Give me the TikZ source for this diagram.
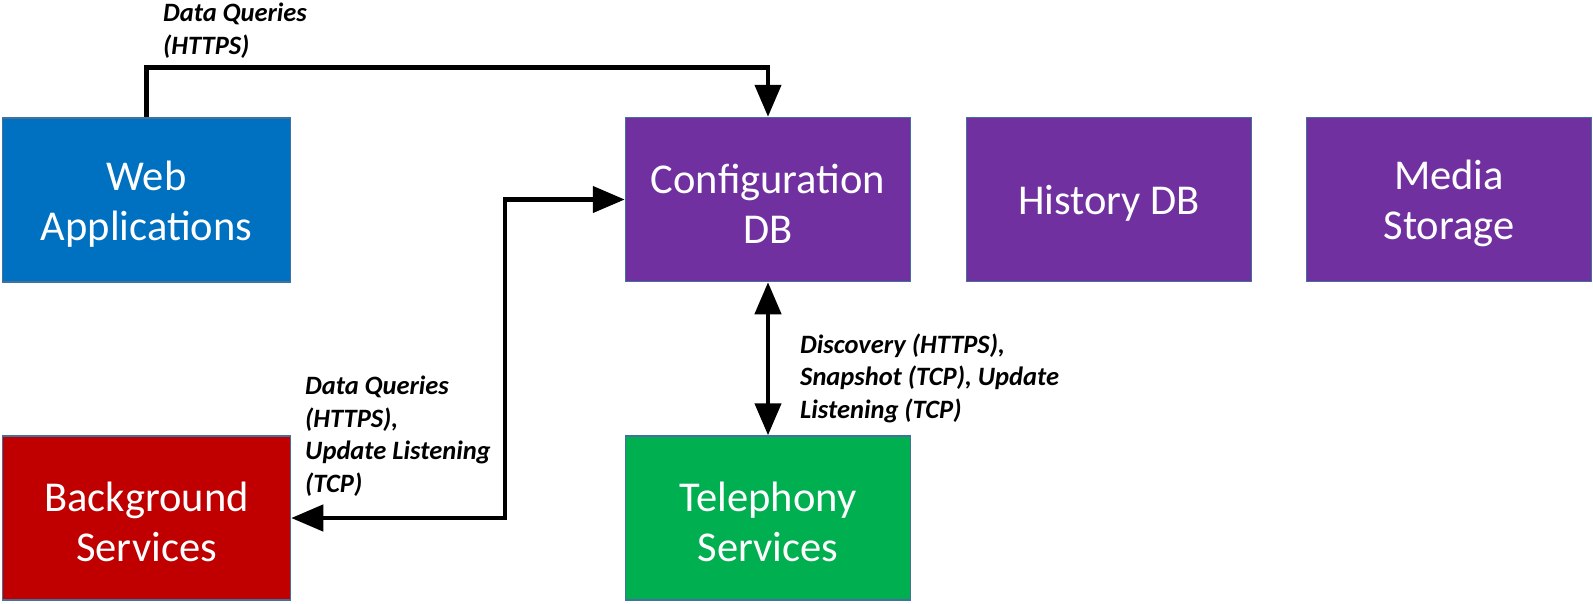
\documentclass[tikz,border=0pt]{standalone}
\usepackage{fontspec}
\setmainfont{Carlito}
\usetikzlibrary{arrows.meta}
\definecolor{webblue}{HTML}{0070C0}
\definecolor{dbpurple}{HTML}{7030A0}
\definecolor{bgred}{HTML}{C00000}
\definecolor{telgreen}{HTML}{00B050}
\definecolor{edgeblue}{HTML}{41719C}
\begin{document}
\begin{tikzpicture}[x=1pt,y=-1pt,
  boxnode/.style={draw=edgeblue, line width=1.5pt, minimum height=164pt, inner sep=0pt},
  boxtext/.style={text=white, align=center, inner sep=0pt, yshift=-4pt,
    font=\fontsize{42.5}{50}\selectfont},
  lbl/.style={align=left, inner sep=0pt, font=\fontsize{26.5}{32.5}\selectfont\bfseries\itshape},
  conn/.style={line width=4.5pt, black, line join=miter, {Triangle[length=32pt,width=26pt]}-{Triangle[length=32pt,width=26pt]}},
  oneway/.style={line width=4.5pt, black, line join=miter, -{Triangle[length=32pt,width=26pt]}}]
\useasboundingbox (0,0) rectangle (1593,603);
\node[boxnode, fill=webblue, minimum width=288pt, label={[boxtext]center:Web\\Applications}] (web) at (146.5,200) {};
\node[boxnode, fill=dbpurple, minimum width=285pt, label={[boxtext]center:Configuration\\DB}] (config) at (768,199.5) {};
\node[boxnode, fill=dbpurple, minimum width=285pt, label={[boxtext]center:History DB}] (history) at (1109,199.5) {};
\node[boxnode, fill=dbpurple, minimum width=285pt, label={[boxtext]center:Media\\Storage}] (media) at (1449,199.5) {};
\node[boxnode, fill=bgred, minimum width=288pt, label={[boxtext]center:Background\\Services}] (background) at (146.5,518) {};
\node[boxnode, fill=telgreen, minimum width=285pt, label={[boxtext]center:Telephony\\Services}] (telephony) at (768,518) {};
\coordinate (jx) at (505,350);
\draw[oneway] (web.north) -- ++(0,-50) -| (config.north);
\draw[conn] (config.west) -| (jx) |- (background.east);
\draw[conn] (config.south) -- (telephony.north);
\node[lbl, anchor=base west] (l1) at (163,54) {Data Queries\\(HTTPS)};
\node[lbl, anchor=base west] (l2) at (305,492) {Data Queries\\(HTTPS),\\Update Listening\\(TCP)};
\node[lbl, anchor=base west] (l3) at (800,418) {Discovery (HTTPS),\\Snapshot (TCP), Update\\Listening (TCP)};
\end{tikzpicture}
\end{document}
